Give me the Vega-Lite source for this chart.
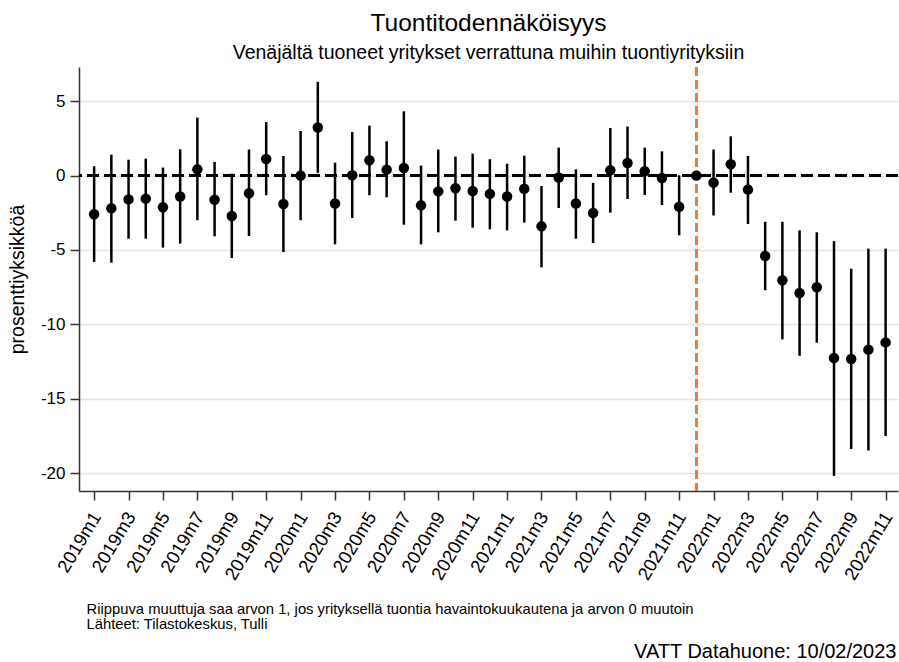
{
  "$schema": "https://vega.github.io/schema/vega-lite/v6.json",
  "width": 819,
  "height": 424,
  "autosize": "none",
  "padding": {"left": 79, "top": 67, "right": 1, "bottom": 171},
  "background": "white",
  "config": {
    "view": {"stroke": null},
    "font": "Liberation Sans"
  },
  "title": {
    "text": "Tuontitodennäköisyys",
    "subtitle": "Venäjältä tuoneet yritykset verrattuna muihin tuontiyrityksiin",
    "font": "Liberation Sans",
    "subtitleFont": "Liberation Sans",
    "fontSize": 24.5,
    "subtitleFontSize": 19.5,
    "fontWeight": "normal",
    "color": "black",
    "subtitleColor": "black",
    "anchor": "middle",
    "frame": "group",
    "offset": 3,
    "subtitlePadding": 7
  },
  "data": {
    "values": [
      {"month": "2019m1", "est": -2.6, "lo": -5.8, "hi": 0.63},
      {"month": "2019m2", "est": -2.2, "lo": -5.85, "hi": 1.41},
      {"month": "2019m3", "est": -1.6, "lo": -4.24, "hi": 1.07},
      {"month": "2019m4", "est": -1.55, "lo": -4.24, "hi": 1.14},
      {"month": "2019m5", "est": -2.13, "lo": -4.84, "hi": 0.54},
      {"month": "2019m6", "est": -1.41, "lo": -4.57, "hi": 1.77},
      {"month": "2019m7", "est": 0.42, "lo": -3.0, "hi": 3.9},
      {"month": "2019m8", "est": -1.62, "lo": -4.08, "hi": 0.92},
      {"month": "2019m9", "est": -2.71, "lo": -5.54, "hi": 0.13},
      {"month": "2019m10", "est": -1.19, "lo": -4.06, "hi": 1.75},
      {"month": "2019m11", "est": 1.12, "lo": -1.32, "hi": 3.6},
      {"month": "2019m12", "est": -1.91, "lo": -5.14, "hi": 1.32},
      {"month": "2020m1", "est": 0.0, "lo": -3.0, "hi": 3.0},
      {"month": "2020m2", "est": 3.23, "lo": 0.18, "hi": 6.3},
      {"month": "2020m3", "est": -1.88, "lo": -4.62, "hi": 0.87},
      {"month": "2020m4", "est": 0.02, "lo": -2.85, "hi": 2.93},
      {"month": "2020m5", "est": 1.03, "lo": -1.32, "hi": 3.36},
      {"month": "2020m6", "est": 0.4, "lo": -1.46, "hi": 2.31},
      {"month": "2020m7", "est": 0.51, "lo": -3.3, "hi": 4.32},
      {"month": "2020m8", "est": -2.0, "lo": -4.62, "hi": 0.67},
      {"month": "2020m9", "est": -1.06, "lo": -3.81, "hi": 1.75},
      {"month": "2020m10", "est": -0.85, "lo": -3.03, "hi": 1.28},
      {"month": "2020m11", "est": -1.03, "lo": -3.5, "hi": 1.48},
      {"month": "2020m12", "est": -1.23, "lo": -3.61, "hi": 1.1},
      {"month": "2021m1", "est": -1.41, "lo": -3.68, "hi": 0.8},
      {"month": "2021m2", "est": -0.88, "lo": -3.16, "hi": 1.34},
      {"month": "2021m3", "est": -3.41, "lo": -6.17, "hi": -0.7},
      {"month": "2021m4", "est": -0.13, "lo": -2.18, "hi": 1.88},
      {"month": "2021m5", "est": -1.88, "lo": -4.24, "hi": 0.42},
      {"month": "2021m6", "est": -2.51, "lo": -4.53, "hi": -0.49},
      {"month": "2021m7", "est": 0.36, "lo": -2.49, "hi": 3.2},
      {"month": "2021m8", "est": 0.85, "lo": -1.57, "hi": 3.3},
      {"month": "2021m9", "est": 0.29, "lo": -1.3, "hi": 1.88},
      {"month": "2021m10", "est": -0.16, "lo": -1.98, "hi": 1.63},
      {"month": "2021m11", "est": -2.09, "lo": -4.01, "hi": 0.02},
      {"month": "2021m12", "est": 0.0, "lo": 0.0, "hi": 0.0},
      {"month": "2022m1", "est": -0.47, "lo": -2.68, "hi": 1.75},
      {"month": "2022m2", "est": 0.76, "lo": -1.15, "hi": 2.64},
      {"month": "2022m3", "est": -0.94, "lo": -3.25, "hi": 1.32},
      {"month": "2022m4", "est": -5.4, "lo": -7.71, "hi": -3.1},
      {"month": "2022m5", "est": -7.04, "lo": -11.01, "hi": -3.1},
      {"month": "2022m6", "est": -7.89, "lo": -12.11, "hi": -3.68},
      {"month": "2022m7", "est": -7.51, "lo": -11.23, "hi": -3.81},
      {"month": "2022m8", "est": -12.26, "lo": -20.18, "hi": -4.4},
      {"month": "2022m9", "est": -12.33, "lo": -18.38, "hi": -6.26},
      {"month": "2022m10", "est": -11.7, "lo": -18.47, "hi": -4.91},
      {"month": "2022m11", "est": -11.21, "lo": -17.51, "hi": -4.91}
    ]
  },
  "layer": [
    {
      "mark": {"type": "rule", "color": "black", "strokeWidth": 2, "strokeDash": [12, 5]},
      "encoding": {
        "y": {
          "datum": 0,
          "type": "quantitative",
          "scale": {"domain": [-21.2, 7.3], "nice": false, "zero": false},
          "axis": {
            "orient": "right",
            "title": "VATT Datahuone: 10/02/2023",
            "titleAngle": 0,
            "titleAlign": "right",
            "titleBaseline": "alphabetic",
            "titleX": -2,
            "titleY": 590,
            "titleFont": "Liberation Sans",
            "titleFontSize": 20,
            "titleFontWeight": "normal",
            "titleColor": "black",
            "labels": false,
            "ticks": false,
            "domain": false,
            "grid": false
          }
        }
      }
    },
    {
      "layer": [
        {
          "mark": {"type": "rule", "color": "black", "strokeWidth": 2.5},
          "encoding": {
            "x": {
              "field": "month",
              "type": "ordinal",
              "scale": {
                "type": "point",
                "padding": 0.8,
                "align": 0.55,
                "domain": ["2019m1", "2019m2", "2019m3", "2019m4", "2019m5", "2019m6", "2019m7", "2019m8", "2019m9", "2019m10", "2019m11", "2019m12", "2020m1", "2020m2", "2020m3", "2020m4", "2020m5", "2020m6", "2020m7", "2020m8", "2020m9", "2020m10", "2020m11", "2020m12", "2021m1", "2021m2", "2021m3", "2021m4", "2021m5", "2021m6", "2021m7", "2021m8", "2021m9", "2021m10", "2021m11", "2021m12", "2022m1", "2022m2", "2022m3", "2022m4", "2022m5", "2022m6", "2022m7", "2022m8", "2022m9", "2022m10", "2022m11"]
              },
              "axis": {
                "values": ["2019m1", "2019m3", "2019m5", "2019m7", "2019m9", "2019m11", "2020m1", "2020m3", "2020m5", "2020m7", "2020m9", "2020m11", "2021m1", "2021m3", "2021m5", "2021m7", "2021m9", "2021m11", "2022m1", "2022m3", "2022m5", "2022m7", "2022m9", "2022m11"],
                "labelAngle": -59,
                "labelAlign": "right",
                "labelBaseline": "middle",
                "labelFontSize": 18.5,
                "labelFont": "Liberation Sans",
                "labelColor": "black",
                "labelPadding": 13,
                "labelOffset": 2,
                "tickSize": 9,
                "tickColor": "#333",
                "tickWidth": 1.5,
                "domainColor": "#333",
                "domainWidth": 1.5,
                "grid": false,
                "title": ["Riippuva muuttuja saa arvon 1, jos yrityksellä tuontia havaintokuukautena ja arvon 0 muutoin", "Lähteet: Tilastokeskus, Tulli"],
                "titleFont": "Liberation Sans",
                "titleFontSize": 14.8,
                "titleFontWeight": "normal",
                "titleColor": "black",
                "titleAlign": "left",
                "titleAnchor": "start",
                "titleBaseline": "alphabetic",
                "titleLineHeight": 15,
                "titleX": 7,
                "titleY": 122
              }
            },
            "y": {
              "field": "lo",
              "type": "quantitative",
              "scale": {"domain": [-21.2, 7.3], "nice": false, "zero": false},
              "axis": {
                "orient": "left",
                "values": [5, 0, -5, -10, -15, -20],
                "labelExpr": "'' + datum.value",
                "labelFontSize": 17,
                "labelFont": "Liberation Sans",
                "labelColor": "black",
                "labelPadding": 5,
                "tickSize": 9,
                "tickColor": "#333",
                "tickWidth": 1.5,
                "domainColor": "#333",
                "domainWidth": 1.5,
                "grid": true,
                "gridColor": "#e4e4e4",
                "gridWidth": 1.5,
                "title": "prosenttiyksikköä",
                "titleFont": "Liberation Sans",
                "titleFontSize": 19.5,
                "titleFontWeight": "normal",
                "titleColor": "black",
                "titleX": -52
              }
            },
            "y2": {"field": "hi"}
          }
        },
        {
          "mark": {"type": "rule", "color": "#ef7d2d", "strokeWidth": 2, "strokeDash": [9, 4]},
          "encoding": {
            "x": {"datum": "2021m12", "type": "ordinal"}
          }
        },
        {
          "mark": {"type": "circle", "color": "black", "opacity": 1, "size": 110},
          "encoding": {
            "x": {"field": "month", "type": "ordinal"},
            "y": {"field": "est", "type": "quantitative"}
          }
        }
      ]
    }
  ],
  "resolve": {"scale": {"y": "independent"}, "axis": {"y": "independent"}}
}
